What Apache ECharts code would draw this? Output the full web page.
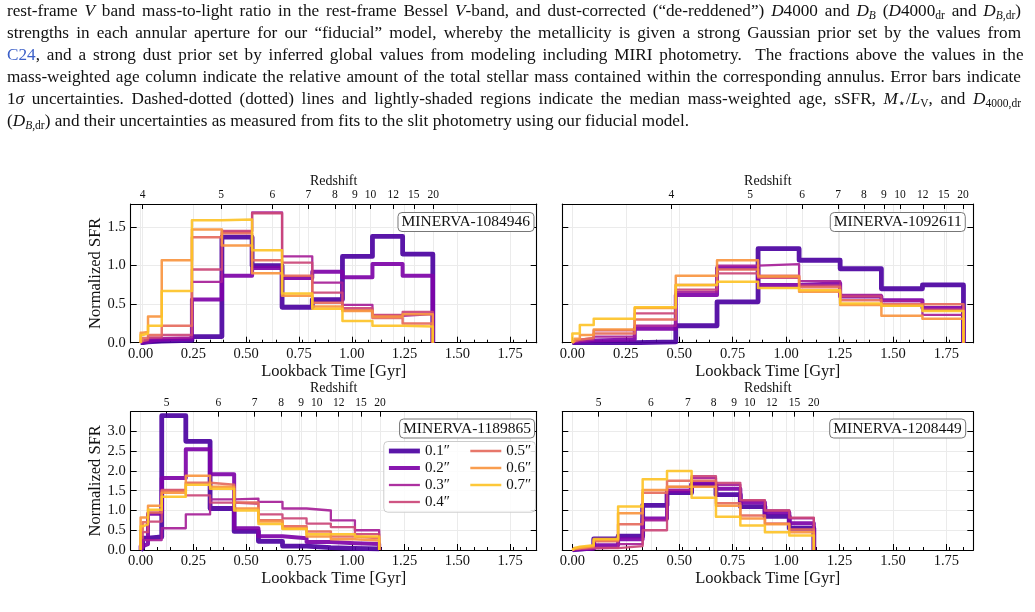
<!DOCTYPE html>
<html>
<head>
<meta charset="utf-8">
<script src="https://cdn.jsdelivr.net/npm/echarts@6/dist/echarts.min.js"></script>
<style>
  html, body { margin: 0; padding: 0; background: #fff; }
  #chart { position: absolute; left: 0; top: 0; width: 1035px; height: 612px; }
  #caption { position: absolute; left: 7px; top: 0px; width: 1014px; z-index: 2;
    font-family: "Liberation Serif", serif; font-size: 17.2px; line-height: 22px; color: #111; }
  #caption .ln { white-space: nowrap; }
  #caption sub { font-size: 11.5px; line-height: 0; vertical-align: -3px; }
  #caption .ref { color: #3b5fc8; }
</style>
</head>
<body>
<div id="chart"></div>
<div id="caption">
<div class="ln"><span>rest-frame <i>V</i> band mass-to-light ratio in the rest-frame Bessel <i>V</i>-band, and dust-corrected (“de-reddened”) <i>D</i>4000 and <i>D<sub>B</sub></i> (<i>D</i>4000<sub>dr</sub> and <i>D</i><sub><i>B</i>,dr</sub>)</span></div>
<div class="ln"><span>strengths in each annular aperture for our “fiducial” model, whereby the metallicity is given a strong Gaussian prior set by the values from</span></div>
<div class="ln"><span><span class="ref">C24</span>, and a strong dust prior set by inferred global values from modeling including MIRI photometry.&nbsp; The fractions above the values in the</span></div>
<div class="ln"><span>mass-weighted age column indicate the relative amount of the total stellar mass contained within the corresponding annulus. Error bars indicate</span></div>
<div class="ln"><span>1<i>σ</i> uncertainties. Dashed-dotted (dotted) lines and lightly-shaded regions indicate the median mass-weighted age, sSFR, <i>M</i><sub>⋆</sub>/<i>L</i><sub>V</sub>, and <i>D</i><sub>4000,dr</sub></span></div>
<div class="ln last"><span>(<i>D</i><sub><i>B</i>,dr</sub>) and their uncertainties as measured from fits to the slit photometry using our fiducial model.</span></div>
</div>
<script>
// justify each caption line to the full column width
document.querySelectorAll('#caption .ln').forEach(function (el) {
  if (el.classList.contains('last')) return;
  var span = el.firstElementChild;
  var w = span.getBoundingClientRect().width;
  var spaces = span.textContent.split(' ').length - 1;
  if (spaces > 0) el.style.wordSpacing = ((1014 - w) / spaces) + 'px';
});

// apertures (legend)
var apertures = ['0.1″', '0.2″', '0.3″', '0.4″', '0.5″', '0.6″', '0.7″'];
var colors = ['#4c02a1', '#7e03a8', '#a62098', '#cb4778', '#e56b5d', '#f89540', '#fdc328'];
var widths = [4.8, 4, 2.3, 2.3, 2.5, 2.5, 2.5];

// lookback time axis ticks
var lookbackTicks = [0, 0.25, 0.5, 0.75, 1.0, 1.25, 1.5, 1.75];

// MINERVA-1084946
var edges1084946 = [0, 0.01, 0.035, 0.1, 0.243, 0.385, 0.528, 0.67, 0.813, 0.956, 1.098, 1.241, 1.384];
var sfr1084946 = [
  [0.00, 0.01, 0.02, 0.03, 0.08, 1.37, 1.00, 0.46, 0.56, 1.12, 1.38, 1.15],
  [0.01, 0.02, 0.04, 0.05, 0.56, 0.87, 0.97, 0.84, 0.92, 0.85, 1.02, 0.87],
  [0.02, 0.03, 0.06, 0.07, 0.79, 1.44, 1.69, 1.12, 0.78, 0.49, 0.35, 0.37],
  [0.02, 0.04, 0.07, 0.10, 0.95, 1.45, 1.68, 1.04, 0.65, 0.45, 0.36, 0.40],
  [0.03, 0.06, 0.10, 0.22, 1.37, 1.42, 1.07, 0.87, 0.52, 0.42, 0.32, 0.25],
  [0.13, 0.14, 0.34, 1.07, 1.47, 1.26, 0.90, 0.61, 0.47, 0.41, 0.34, 0.37],
  [0.10, 0.12, 0.22, 0.67, 1.59, 1.60, 1.20, 0.64, 0.44, 0.28, 0.22, 0.21]
];
var zLabels1084946 = ['4', '5', '6', '7', '8', '9', '10', '12', '15', '20'];
var zTimes1084946 = [0.009, 0.381, 0.624, 0.795, 0.920, 1.015, 1.089, 1.197, 1.294, 1.386];

// MINERVA-1092611
var edges1092611 = [0, 0.01, 0.035, 0.1, 0.292, 0.484, 0.677, 0.869, 1.061, 1.253, 1.446, 1.638, 1.83];
var sfr1092611 = [
  [0.00, 0.00, 0.00, 0.00, 0.01, 0.22, 0.53, 1.22, 1.07, 0.96, 0.70, 0.75],
  [0.01, 0.02, 0.03, 0.04, 0.18, 0.62, 0.97, 0.75, 0.77, 0.60, 0.55, 0.45],
  [0.01, 0.02, 0.04, 0.08, 0.22, 0.66, 1.00, 1.02, 0.80, 0.62, 0.54, 0.36],
  [0.02, 0.04, 0.06, 0.16, 0.38, 0.69, 0.90, 0.84, 0.74, 0.60, 0.48, 0.43],
  [0.02, 0.04, 0.06, 0.12, 0.30, 0.75, 0.95, 0.87, 0.72, 0.55, 0.50, 0.50],
  [0.02, 0.05, 0.10, 0.17, 0.45, 0.87, 1.07, 0.86, 0.66, 0.49, 0.35, 0.31],
  [0.12, 0.12, 0.23, 0.31, 0.46, 0.75, 0.79, 0.71, 0.68, 0.51, 0.48, 0.41]
];
var zLabels1092611 = ['4', '5', '6', '7', '8', '9', '10', '12', '15', '20'];
var zTimes1092611 = [0.463, 0.832, 1.075, 1.244, 1.364, 1.458, 1.533, 1.640, 1.738, 1.828];

// MINERVA-1189865
var edges1189865 = [0, 0.01, 0.035, 0.1, 0.214, 0.329, 0.443, 0.558, 0.672, 0.786, 0.901, 1.015, 1.13];
var sfr1189865 = [
  [0.05, 0.30, 0.33, 3.40, 2.75, 1.05, 0.47, 0.22, 0.10, 0.06, 0.04, 0.03],
  [0.10, 0.15, 0.92, 1.82, 2.55, 1.92, 0.55, 0.35, 0.30, 0.20, 0.17, 0.15],
  [0.05, 0.25, 0.25, 0.55, 0.90, 1.28, 1.30, 1.22, 1.05, 1.00, 0.75, 0.50],
  [0.30, 0.45, 0.72, 1.52, 1.38, 1.20, 1.17, 0.90, 0.80, 0.67, 0.58, 0.40],
  [0.50, 0.70, 0.95, 1.50, 1.70, 1.65, 1.20, 0.75, 0.60, 0.47, 0.34, 0.30],
  [0.82, 0.82, 1.12, 1.45, 1.88, 1.60, 1.05, 0.72, 0.55, 0.34, 0.27, 0.24],
  [0.60, 0.65, 1.02, 1.35, 1.65, 1.55, 1.00, 0.66, 0.53, 0.40, 0.40, 0.34]
];
var zLabels1189865 = ['5', '6', '7', '8', '9', '10', '12', '15', '20'];
var zTimes1189865 = [0.123, 0.368, 0.540, 0.665, 0.760, 0.834, 0.938, 1.044, 1.134];

// MINERVA-1208449
var edges1208449 = [0, 0.01, 0.035, 0.1, 0.214, 0.329, 0.443, 0.558, 0.672, 0.786, 0.901, 1.015, 1.13];
var sfr1208449 = [
  [0.01, 0.02, 0.05, 0.28, 0.35, 1.13, 1.45, 1.65, 1.40, 1.10, 0.85, 0.55],
  [0.01, 0.02, 0.04, 0.12, 0.27, 0.80, 1.50, 1.68, 1.55, 1.20, 0.95, 0.68],
  [0.01, 0.02, 0.04, 0.06, 0.15, 0.75, 1.52, 1.82, 1.65, 1.25, 1.00, 0.80],
  [0.02, 0.03, 0.05, 0.05, 0.10, 0.50, 1.60, 1.87, 1.70, 1.26, 1.00, 0.82],
  [0.03, 0.05, 0.08, 0.22, 0.65, 1.45, 1.75, 1.75, 1.18, 0.87, 0.67, 0.52],
  [0.03, 0.05, 0.10, 0.25, 0.93, 1.52, 1.60, 1.60, 1.12, 0.80, 0.65, 0.45],
  [0.05, 0.08, 0.12, 0.28, 1.10, 1.79, 2.00, 1.32, 0.84, 0.62, 0.45, 0.37]
];
var zLabels1208449 = ['5', '6', '7', '8', '9', '10', '12', '15', '20'];
var zTimes1208449 = [0.123, 0.367, 0.540, 0.661, 0.757, 0.830, 0.933, 1.039, 1.129];

var FONT = "'Liberation Serif', 'DejaVu Serif', serif";
var XMIN = -0.047, XMAX = 1.876;

var panels = [
  { id: 'MINERVA-1084946', edges: edges1084946, sfr: sfr1084946, zt: zTimes1084946, zl: zLabels1084946,
    grid: { left: 130.7, top: 204, width: 406, height: 138.7 }, ymax: 1.8, showY: true, boxRight: 501, boxTop: 212 },
  { id: 'MINERVA-1092611', edges: edges1092611, sfr: sfr1092611, zt: zTimes1092611, zl: zLabels1092611,
    grid: { left: 562.3, top: 204, width: 411, height: 138.7 }, ymax: 1.8, showY: false, boxRight: 69.3, boxTop: 212 },
  { id: 'MINERVA-1189865', edges: edges1189865, sfr: sfr1189865, zt: zTimes1189865, zl: zLabels1189865,
    grid: { left: 130.7, top: 411.7, width: 406, height: 138.3 }, ymax: 3.5, showY: true, boxRight: 500, boxTop: 418.5 },
  { id: 'MINERVA-1208449', edges: edges1208449, sfr: sfr1208449, zt: zTimes1208449, zl: zLabels1208449,
    grid: { left: 562.3, top: 411.7, width: 411, height: 138.3 }, ymax: 3.5, showY: false, boxRight: 69.3, boxTop: 418.5 }
];

function stepPoints(edges, vals) {
  var pts = [[edges[0], 0]];
  vals.forEach(function (v, i) { pts.push([edges[i], v], [edges[i + 1], v]); });
  pts.push([edges[edges.length - 1], 0]);
  return pts;
}

var axisLineStyle = { color: '#000', width: 1.1 };
var gridLineStyle = { color: '#ebebeb', width: 1 };
var grids = [], xAxes = [], yAxes = [], series = [], titles = [];

panels.forEach(function (p, i) {
  grids.push(p.grid);
  xAxes.push({
    type: 'value', gridIndex: i, position: 'bottom', min: XMIN, max: XMAX, interval: 0.25,
    axisLine: { show: true, onZero: false, lineStyle: axisLineStyle },
    axisTick: { show: true, inside: true, length: 6, customValues: lookbackTicks, lineStyle: { color: '#000' } },
    minorTick: { show: true, splitNumber: 4, length: 3, lineStyle: { color: '#000' } },
    axisLabel: { customValues: lookbackTicks, formatter: function (v) { return v.toFixed(2); },
      fontFamily: FONT, fontSize: 14.5, color: '#111', margin: 4 },
    splitLine: { show: true, lineStyle: gridLineStyle },
    name: 'Lookback Time [Gyr]', nameLocation: 'middle', nameGap: 20,
    nameTextStyle: { fontFamily: FONT, fontSize: 16.5, color: '#111' }
  });
  xAxes.push({
    type: 'value', gridIndex: i, position: 'top', min: XMIN, max: XMAX,
    axisLine: { show: true, onZero: false, lineStyle: axisLineStyle },
    axisTick: { show: true, inside: true, length: 5, customValues: p.zt, lineStyle: { color: '#000' } },
    axisLabel: { customValues: p.zt, fontFamily: FONT, fontSize: 11.5, color: '#111', margin: 3,
      formatter: function (v) {
        var best = 0;
        p.zt.forEach(function (t, k) { if (Math.abs(t - v) < Math.abs(p.zt[best] - v)) best = k; });
        return p.zl[best];
      } },
    splitLine: { show: true, lineStyle: gridLineStyle },
    name: 'Redshift', nameLocation: 'middle', nameGap: 16,
    nameTextStyle: { fontFamily: FONT, fontSize: 14, color: '#111' }
  });
  yAxes.push({
    type: 'value', gridIndex: i, position: 'left', min: 0, max: p.ymax, interval: 0.5,
    axisLine: { show: true, onZero: false, lineStyle: axisLineStyle },
    axisTick: { show: true, inside: true, length: 6, lineStyle: { color: '#000' } },
    axisLabel: { show: p.showY, showMaxLabel: false, formatter: function (v) { return v.toFixed(1); },
      fontFamily: FONT, fontSize: 14.5, color: '#111', margin: 5 },
    splitLine: { show: true, lineStyle: gridLineStyle },
    name: p.showY ? 'Normalized SFR' : '', nameLocation: 'middle', nameGap: 27, nameRotate: 90,
    nameTextStyle: { fontFamily: FONT, fontSize: 16.5, color: '#111' }
  });
  yAxes.push({
    type: 'value', gridIndex: i, position: 'right', min: 0, max: p.ymax, interval: 0.5,
    axisLine: { show: true, onZero: false, lineStyle: axisLineStyle },
    axisTick: { show: true, inside: true, length: 6, lineStyle: { color: '#000' } },
    axisLabel: { show: false },
    splitLine: { show: false }
  });
  p.sfr.forEach(function (vals, k) {
    series.push({
      type: 'line', name: apertures[k], xAxisIndex: 2 * i, yAxisIndex: 2 * i,
      data: stepPoints(p.edges, vals), showSymbol: false, symbol: 'none',
      color: colors[k], lineStyle: { color: colors[k], width: widths[k], opacity: 0.92, join: 'round' },
      silent: true
    });
  });
  titles.push({
    text: p.id, right: p.boxRight, top: p.boxTop, padding: [2, 4],
    borderWidth: 1, borderColor: '#777', borderRadius: 4, backgroundColor: '#fff',
    textStyle: { fontFamily: FONT, fontSize: 15.5, fontWeight: 'normal', color: '#111', lineHeight: 16 }
  });
});

var chart = echarts.init(document.getElementById('chart'));
var option = {
  animation: false,
  backgroundColor: '#fff',
  textStyle: { fontFamily: FONT },
  title: titles,
  grid: grids,
  xAxis: xAxes,
  yAxis: yAxes,
  legend: {
    data: apertures.map(function (n, k) {
      return { name: n, lineStyle: { color: colors[k], width: widths[k] }, itemStyle: { opacity: 0 } };
    }),
    orient: 'vertical', left: 386.5, top: 443.5, height: 72, padding: 0,
    itemWidth: 31, itemHeight: 1, itemGap: 2, selectedMode: false,
    itemStyle: { opacity: 0 },
    textStyle: { fontFamily: FONT, fontSize: 15, color: '#111', width: 41, lineHeight: 15 }
  },
  graphic: [{
    type: 'rect', left: 383.3, top: 441, z: 3,
    shape: { width: 151.7, height: 70.7, r: 4 },
    style: { fill: 'rgba(255,255,255,0.85)', stroke: '#cccccc', lineWidth: 1 }
  }],
  series: series
};
chart.setOption(option);
</script>
</body>
</html>
